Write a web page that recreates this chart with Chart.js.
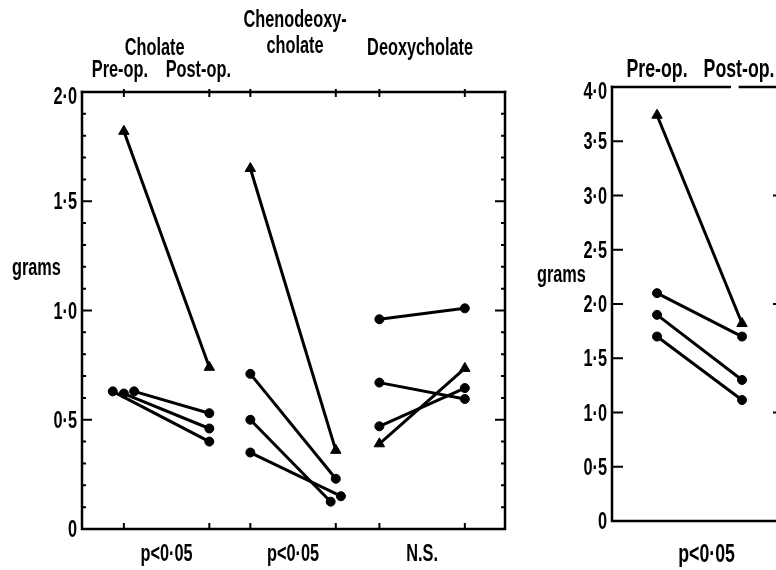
<!DOCTYPE html>
<html>
<head>
<meta charset="utf-8">
<script src="https://cdn.jsdelivr.net/npm/chart.js@4/dist/chart.umd.min.js"></script>
<style>
  html, body { margin: 0; padding: 0; background: #fff; overflow: hidden; width: 776px; height: 570px; }
  #bileLeft { position: absolute; left: 0; top: 0; }
  #bileRight { position: absolute; left: 520px; top: 0; }
</style>
</head>
<body>
<canvas id="bileLeft" width="520" height="570"></canvas>
<canvas id="bileRight" width="270" height="570"></canvas>
<script>
// grams: pre-op vs post-op, one pair per patient
const groupTitles = [['Cholate'], ['Chenodeoxy-', 'cholate'], ['Deoxycholate']];
const groupStats = ['p<0·05', 'p<0·05', 'N.S.'];
const groupPreX = [0, 1.48, 2.99];
const groupPostX = [1, 2.48, 3.99];

const cholatePre = [1.82, 0.63, 0.62, 0.63];
const cholatePost = [0.74, 0.40, 0.46, 0.53];
const cholateShape = ['triangle', 'circle', 'circle', 'circle'];
const cholatePreJitter = [0, -0.13, 0, 0.12];

const chenoPre = [1.65, 0.71, 0.50, 0.35];
const chenoPost = [0.36, 0.23, 0.125, 0.15];
const chenoShape = ['triangle', 'circle', 'circle', 'circle'];
const chenoPostJitter = [0, 0, -0.06, 0.06];

const deoxyPre = [0.96, 0.67, 0.47, 0.39];
const deoxyPost = [1.01, 0.595, 0.645, 0.735];
const deoxyShape = ['circle', 'circle', 'circle', 'triangle'];

const totalPre = [3.74, 2.10, 1.90, 1.70];
const totalPost = [1.82, 1.70, 1.30, 1.115];
const totalShape = ['triangle', 'circle', 'circle', 'circle'];
const totalStat = 'p<0·05';

const leftTicks = [0, 0.5, 1, 1.5, 2];
const leftTickLabels = ['0', '0·5', '1·0', '1·5', '2·0'];
const rightTicks = [0, 0.5, 1, 1.5, 2, 2.5, 3, 3.5, 4];
const rightTickLabels = ['0', '0·5', '1·0', '1·5', '2·0', '2·5', '3·0', '3·5', '4·0'];

const FONT_FAMILY = '"Liberation Sans Narrow", "Liberation Sans", sans-serif';
const measure = document.createElement('canvas').getContext('2d');
measure.font = 'bold 23px ' + FONT_FAMILY;
const squeeze = 106 / measure.measureText('Deoxycholate').width;

function drawText(ctx, str, x, y, size, align) {
  ctx.save();
  ctx.font = 'bold ' + size + 'px ' + FONT_FAMILY;
  ctx.fillStyle = '#000';
  ctx.textBaseline = 'alphabetic';
  ctx.textAlign = align || 'center';
  ctx.translate(x, y);
  ctx.scale(squeeze, 1);
  ctx.fillText(str, 0, 0);
  ctx.restore();
}

function pairSets(pre, post, shape, preX, postX, preJit, postJit) {
  return pre.map((v, i) => ({
    data: [
      { x: preX + (preJit ? preJit[i] : 0), y: v },
      { x: postX + (postJit ? postJit[i] : 0), y: post[i] }
    ],
    showLine: true,
    borderColor: '#000',
    borderWidth: 3,
    backgroundColor: '#000',
    pointBorderColor: '#000',
    pointBackgroundColor: '#000',
    pointBorderWidth: 1,
    pointStyle: shape[i],
    pointRadius: shape[i] === 'triangle' ? 6 : 4.5
  }));
}

// frame, inward ticks and all lettering, placed with the chart's own scales
function paperPlugin(o) {
  return {
    id: 'paper',
    afterDatasetsDraw(chart) {
      const ctx = chart.ctx, a = chart.chartArea;
      const xs = chart.scales.x, ys = chart.scales.y;
      ctx.save();
      ctx.strokeStyle = '#000';
      ctx.lineWidth = 2.5;
      ctx.beginPath();
      ctx.moveTo(a.left, a.top - 1.25);
      ctx.lineTo(a.left, a.bottom);
      ctx.lineTo(a.right, a.bottom);
      ctx.lineTo(a.right, a.top - 1.25);
      ctx.stroke();
      let start = a.left - 1.25;
      ctx.beginPath();
      (o.topGaps || []).forEach(g => {
        ctx.moveTo(start, a.top);
        ctx.lineTo(xs.getPixelForValue(g[0]), a.top);
        start = xs.getPixelForValue(g[1]);
      });
      ctx.moveTo(start, a.top);
      ctx.lineTo(a.right + 1.25, a.top);
      ctx.stroke();

      ctx.lineWidth = 2;
      ctx.beginPath();
      for (let v = ys.min + o.minorStep; v < ys.max - 1e-6; v += o.minorStep) {
        const r = v / o.majorStep;
        const major = Math.abs(r - Math.round(r)) < 1e-6;
        const py = ys.getPixelForValue(v);
        const l = major ? o.leftMajor : o.leftMinor;
        const rr = major ? o.rightMajor : o.rightMinor;
        if (l) { ctx.moveTo(a.left, py); ctx.lineTo(a.left + l, py); }
        if (rr) { ctx.moveTo(a.right, py); ctx.lineTo(a.right - rr, py); }
      }
      (o.rightTicks || []).forEach(v => {
        const py = ys.getPixelForValue(v);
        ctx.moveTo(a.right, py); ctx.lineTo(a.right - o.rightTickLen, py);
      });
      (o.xTicks || []).forEach(v => {
        const px = xs.getPixelForValue(v);
        ctx.moveTo(px, a.top - o.topOut); ctx.lineTo(px, a.top + o.topIn);
        ctx.moveTo(px, a.bottom); ctx.lineTo(px, a.bottom - o.bottomIn);
      });
      ctx.stroke();
      ctx.restore();

      o.tickValues.forEach((v, i) => {
        const py = ys.getPixelForValue(v) + 8 + (v === ys.max ? 4 : 0);
        drawText(ctx, o.tickLabels[i], a.left - 5, py, 23, 'right');
      });
      o.texts.forEach(t => {
        const px = t.at === undefined ? t.px : xs.getPixelForValue(t.at) + (t.dx || 0);
        drawText(ctx, t.text, px, t.y, t.size || 23, t.align);
      });
    }
  };
}

function makeOptions(padding, xMin, xMax, yMax) {
  return {
    responsive: false,
    animation: false,
    devicePixelRatio: 1,
    layout: { padding },
    scales: {
      x: { type: 'linear', min: xMin, max: xMax, display: false },
      y: { type: 'linear', min: 0, max: yMax, display: false }
    },
    plugins: { legend: { display: false }, tooltip: { enabled: false } }
  };
}

// left panel: three bile acids
const titleShift = [-12, 2, -2];
const leftTexts = [];
groupTitles.forEach((lines, g) => {
  const mid = (groupPreX[g] + groupPostX[g]) / 2;
  lines.forEach((t, k) => {
    leftTexts.push({ text: t, at: mid, dx: titleShift[g], y: lines.length === 2 ? [27, 53][k] : 55 });
  });
  leftTexts.push({ text: groupStats[g], at: mid, dx: 0, y: 561 });
});
leftTexts.push({ text: 'Pre-op.', at: groupPreX[0], dx: -4, y: 77 });
leftTexts.push({ text: 'Post-op.', at: groupPostX[0], dx: -11, y: 77 });
leftTexts.push({ text: 'grams', px: 12, y: 275, align: 'left' });

new Chart(document.getElementById('bileLeft'), {
  type: 'scatter',
  data: {
    datasets: [
      ...pairSets(cholatePre, cholatePost, cholateShape, groupPreX[0], groupPostX[0], cholatePreJitter, null),
      ...pairSets(chenoPre, chenoPost, chenoShape, groupPreX[1], groupPostX[1], null, chenoPostJitter),
      ...pairSets(deoxyPre, deoxyPost, deoxyShape, groupPreX[2], groupPostX[2], null, null)
    ]
  },
  options: makeOptions({ left: 82, top: 92, right: 15, bottom: 41 }, -0.49, 4.46, 2),
  plugins: [paperPlugin({
    minorStep: 0.1, majorStep: 0.5,
    leftMajor: 10, leftMinor: 4, rightMajor: 10, rightMinor: 4,
    xTicks: [...groupPreX, ...groupPostX], topOut: 3, topIn: 5, bottomIn: 6,
    tickValues: leftTicks, tickLabels: leftTickLabels,
    texts: leftTexts
  })]
});

// right panel: total bile acids
new Chart(document.getElementById('bileRight'), {
  type: 'scatter',
  data: { datasets: pairSets(totalPre, totalPost, totalShape, 0, 1, null, null) },
  options: makeOptions({ left: 92, top: 87, right: 11, bottom: 49 }, -0.53, 1.435, 4),
  plugins: [paperPlugin({
    minorStep: 0.5, majorStep: 0.5,
    leftMajor: 11, leftMinor: 0, rightMajor: 0, rightMinor: 0,
    rightTicks: [1, 2, 3], rightTickLen: 6,
    topGaps: [[0.87, 0.96]],
    tickValues: rightTicks, tickLabels: rightTickLabels,
    texts: [
      { text: 'Pre-op.', at: 0, dx: 0, y: 77, size: 25 },
      { text: 'Post-op.', at: 1, dx: -3, y: 77, size: 25 },
      { text: totalStat, at: 0.5, dx: 7, y: 562, size: 25 },
      { text: 'grams', px: 17, y: 282, align: 'left' }
    ]
  })]
});
</script>
</body>
</html>
